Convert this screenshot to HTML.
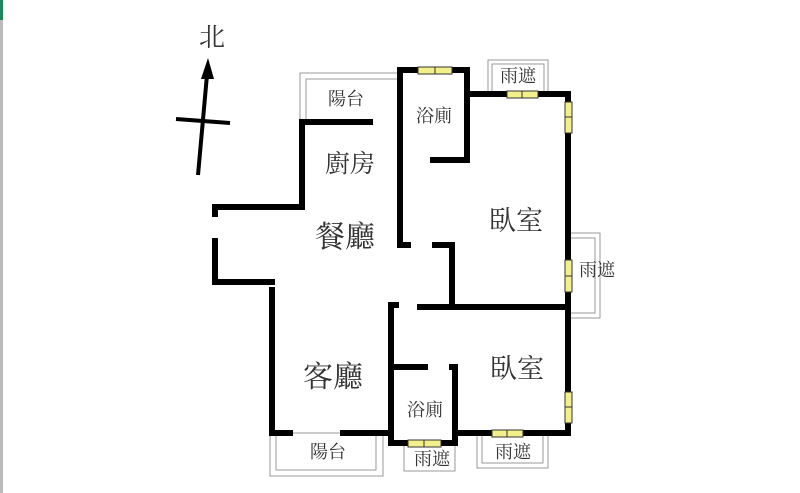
<!DOCTYPE html>
<html><head><meta charset="utf-8"><style>
html,body{margin:0;padding:0;background:#fff;width:800px;height:493px;overflow:hidden}
svg{display:block}
text{font-family:"Liberation Serif","Noto Serif CJK SC",serif;fill:#333}
</style></head><body>
<svg width="800" height="493" viewBox="0 0 800 493" xmlns="http://www.w3.org/2000/svg">
<rect x="0" y="0" width="3" height="493" fill="#bbb"/>
<rect x="0" y="0" width="3" height="20" fill="#1a8a5a"/>
<!-- north arrow -->
<line x1="198" y1="175" x2="207" y2="75" stroke="#000" stroke-width="4"/>
<polygon points="208,58 201,79 214,79" fill="#000"/>
<line x1="176" y1="119" x2="230" y2="123" stroke="#000" stroke-width="4"/>
<text x="212" y="46" font-size="26" text-anchor="middle" fill="#222">北</text>
<!-- thin balcony / rain cover outlines -->
<g fill="none" stroke="#999" stroke-width="1">
<polyline points="400,73 300,73 300,122"/>
<polyline points="400,79 306,79 306,122"/>
<rect x="488" y="60" width="60" height="34"/>
<rect x="492" y="64" width="52" height="30"/>
<rect x="568" y="233" width="32" height="85"/>
<rect x="568" y="238" width="27" height="75"/>
<rect x="270" y="433" width="113" height="43"/>
<rect x="276" y="433" width="100" height="37"/>
<rect x="404" y="443" width="51" height="28"/>
<rect x="477" y="433" width="71" height="35"/>
<rect x="482" y="433" width="61" height="30"/>
</g>
<!-- walls -->
<g stroke="#000" stroke-width="6" fill="none" stroke-linecap="square">
<polyline points="370,122 302,122 302,207 215,207 215,214"/>
<polyline points="215,241 215,282 272,282"/>
<polyline points="272,290 272,433 290,433"/>
<polyline points="343,433 391,433"/>
<polyline points="400,195 400,70 467,70 467,160 433,160"/>
<polyline points="400,160 400,245 408,245"/>
<polyline points="435,245 452,245 452,307"/>
<polyline points="467,94 568,94 568,433 455,433"/>
<polyline points="420,307 568,307"/>
<polyline points="396,305 391,305 391,443 455,443 455,367 452,367"/>
<polyline points="391,367 425,367"/>
</g>
<!-- windows -->
<g fill="#f3ef8a" stroke="#333" stroke-width="1">
<rect x="418" y="67" width="34" height="7"/><line x1="435" y1="67" x2="435" y2="74"/>
<rect x="507" y="91" width="31" height="7"/><line x1="522" y1="91" x2="522" y2="98"/>
<rect x="565" y="102" width="7" height="31"/><line x1="565" y1="117" x2="572" y2="117"/>
<rect x="565" y="260" width="7" height="32"/><line x1="565" y1="276" x2="572" y2="276"/>
<rect x="565" y="392" width="7" height="31"/><line x1="565" y1="407" x2="572" y2="407"/>
<rect x="492" y="430" width="31" height="7"/><line x1="507" y1="430" x2="507" y2="437"/>
<rect x="408" y="440" width="33" height="7"/><line x1="424" y1="440" x2="424" y2="447"/>
</g>
<!-- labels -->
<g font-size="18" text-anchor="middle" fill="#555">
<text x="346" y="105">陽台</text>
<text x="434" y="122">浴廁</text>
<text x="518" y="82">雨遮</text>
<text x="597" y="276">雨遮</text>
<text x="425" y="416">浴廁</text>
<text x="328" y="458">陽台</text>
<text x="432" y="465">雨遮</text>
<text x="513" y="458">雨遮</text>
</g>
<g text-anchor="middle" fill="#222">
<text x="350" y="172" font-size="25">廚房</text>
<text x="345" y="247" font-size="30">餐廳</text>
<text x="516" y="230" font-size="27">臥室</text>
<text x="333" y="387" font-size="30">客廳</text>
<text x="517" y="378" font-size="27">臥室</text>
</g>
</svg>
</body></html>
